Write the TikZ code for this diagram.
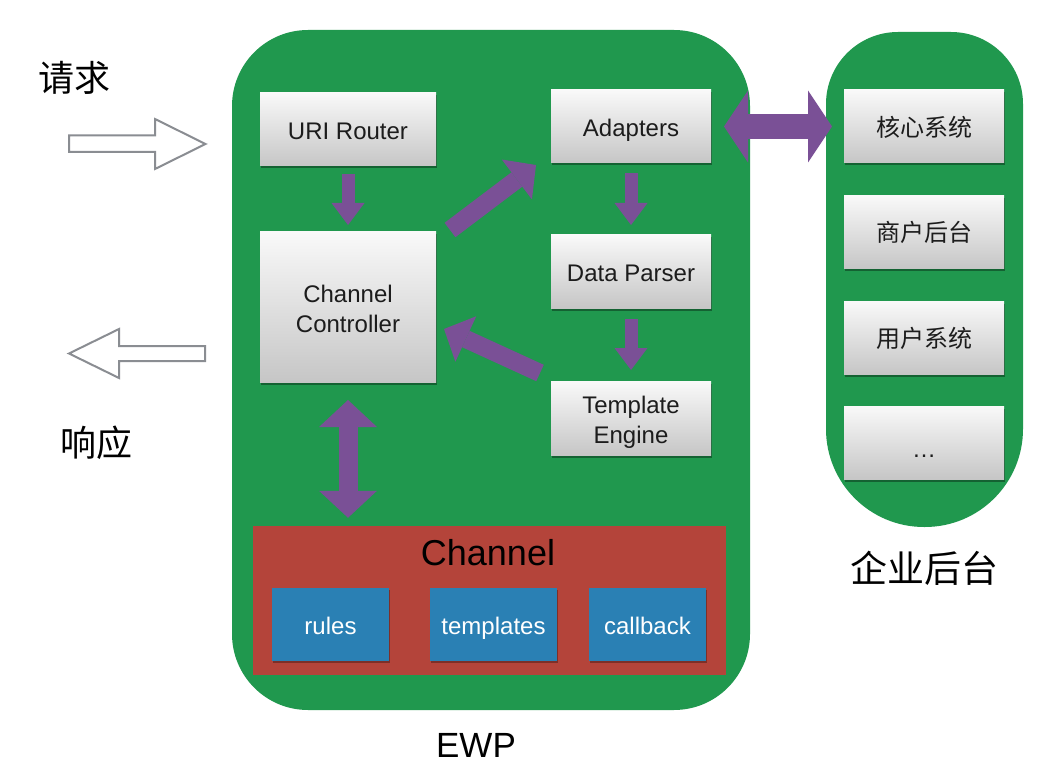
\documentclass[tikz,border=0pt]{standalone}
\usepackage{fontspec}
\setmainfont{Liberation Sans}
\newfontfamily\cjk{Noto Sans CJK SC}
\usetikzlibrary{arrows.meta,shadows,calc}
\definecolor{ewpgreen}{RGB}{32,152,78}
\definecolor{chanred}{RGB}{180,68,58}
\definecolor{chanblue}{RGB}{42,128,180}
\definecolor{arrpurple}{RGB}{122,80,150}
\definecolor{boxtop}{RGB}{249,249,249}
\definecolor{boxbot}{RGB}{198,198,198}
\definecolor{outlinegray}{RGB}{138,141,146}
\definecolor{txtdark}{RGB}{28,28,28}
\newcommand{\boxlbl}[2][-4pt]{\raisebox{#1}[\height][\depth]{\begin{tabular}{@{}c@{}}#2\end{tabular}}}
\begin{document}
\begin{tikzpicture}[x=1pt,y=-1pt,
  gbox/.style={draw=none, top color=boxtop, bottom color=boxbot, inner sep=0pt, outer sep=0pt,
    text=txtdark, align=center, font=\fontsize{24}{30}\selectfont,
    drop shadow={shadow xshift=0.5pt, shadow yshift=-2.5pt, opacity=0.35, fill=black}},
  cbox/.style={gbox, font=\cjk\fontsize{24}{30}\selectfont},
  bbox/.style={draw=none, fill=chanblue, inner sep=0pt, outer sep=0pt, text=white,
    font=\fontsize{24}{30}\selectfont, minimum height=73pt,
    drop shadow={shadow xshift=0.5pt, shadow yshift=-2pt, opacity=0.3, fill=black}},
  parrow/.style={draw=arrpurple, line width=13pt,
    -{Triangle[width=33pt,length=22pt,line width=0pt]}},
  pdiag/.style={draw=arrpurple, line width=18pt,
    -{Triangle[width=50pt,length=24pt,line width=0pt]}},
  pvdouble/.style={draw=arrpurple, line width=19pt,
    {Triangle[width=58pt,length=27pt,line width=0pt]}-{Triangle[width=58pt,length=27pt,line width=0pt]}},
  phdouble/.style={draw=arrpurple, line width=25pt,
    {Triangle[width=72pt,length=24pt,line width=0pt]}-{Triangle[width=72pt,length=24pt,line width=0pt]}},
  hollow/.style={draw=outlinegray, line width=2pt, fill=white, line join=miter},
  biglabel/.style={text=black, inner sep=0pt}
]
\useasboundingbox (0,0) rectangle (1047,770);
\fill[white] (0,0) rectangle (1047,770);

% big containers
\node[draw=none, fill=ewpgreen, rounded corners=76pt, minimum width=518pt, minimum height=680pt,
      inner sep=0pt] (ewp) at (491,370) {};
\fill[ewpgreen] (826,300) [rounded corners=72pt] -- (826,32) -- (1023,32) -- (1023,300)
      [rounded corners=98pt] -- (1023,527) -- (826,527) -- cycle;

% channel
\node[draw=none, fill=chanred, inner sep=0pt, minimum width=473pt, minimum height=149pt] (chan) at (489.5,600.5) {};
\node[biglabel, font=\fontsize{36}{40}\selectfont] (chanlbl) at (488,553) {Channel};
\node[bbox, minimum width=117pt] (rules) at (330.5,624.5) {\boxlbl{rules}};
\node[bbox, minimum width=127pt] (tpls) at (493.5,624.5) {\boxlbl{templates}};
\node[bbox, minimum width=117pt] (cb) at (647.5,624.5) {\boxlbl{callback}};

% EWP boxes
\node[gbox, minimum width=176pt, minimum height=73pt] (uri) at (348,129.5) {\boxlbl{URI Router}};
\node[gbox, minimum width=176pt, minimum height=150pt] (ctrl) at (348,307) {\boxlbl{Channel\\Controller}};
\node[gbox, minimum width=160pt, minimum height=73pt] (adapt) at (631,126.5) {\boxlbl{Adapters}};
\node[gbox, minimum width=160pt, minimum height=73pt] (dp) at (631,271.5) {\boxlbl{Data Parser}};
\node[gbox, minimum width=160pt, minimum height=74pt] (te) at (631,418) {\boxlbl{Template\\Engine}};

% enterprise boxes
\node[cbox, minimum width=160pt, minimum height=73pt] (k1) at (924,126.5) {\boxlbl{核心系统}};
\node[cbox, minimum width=160pt, minimum height=73pt] (k2) at (924,232) {\boxlbl{商户后台}};
\node[cbox, minimum width=160pt, minimum height=73pt] (k3) at (924,337.5) {\boxlbl{用户系统}};
\node[gbox, minimum width=160pt, minimum height=73pt] (k4) at (924,442.5) {\boxlbl[-9pt]{…}};

% purple arrows
\draw[parrow, shorten <=8pt, shorten >=7pt] (uri.south) -- (ctrl.north);
\draw[parrow, shorten <=10pt, shorten >=10pt] (adapt.south) -- (dp.north);
\draw[parrow, shorten <=11pt, shorten >=11pt] (dp.south) -- (te.north);
\draw[pdiag] ($(ctrl.north east)+(14,-2)$) -- ($(adapt.south west)+(-15,2)$);
\draw[pdiag] ($(te.north west)+(-11,-8)$) -- ($(ctrl.east)+(8,22)$);
\draw[pvdouble, shorten <=18pt, shorten >=8pt] (ctrl.south) -- (ctrl.south |- chan.north);
\draw[phdouble, shorten <=13pt, shorten >=12pt] (adapt.east) -- (k1.west);

% request / response hollow arrows
\draw[hollow] (69,135.5) -- (155,135.5) -- (155,119) -- (205.5,144) -- (155,169) -- (155,152) -- (69,152) -- cycle;
\draw[hollow] (205,346) -- (119,346) -- (119,329) -- (69,353.5) -- (119,378) -- (119,361) -- (205,361) -- cycle;

% labels
\node[biglabel, font=\cjk\fontsize{36}{40}\selectfont] (req) at (74,78) {请求};
\node[biglabel, font=\cjk\fontsize{36}{40}\selectfont] (resp) at (96,443) {响应};
\node[biglabel, font=\cjk\fontsize{37}{40}\selectfont] (entlbl) at (924,568) {企业后台};
\node[biglabel, font=\fontsize{35}{40}\selectfont] (ewplbl) at (476,745) {EWP};
\end{tikzpicture}
\end{document}
